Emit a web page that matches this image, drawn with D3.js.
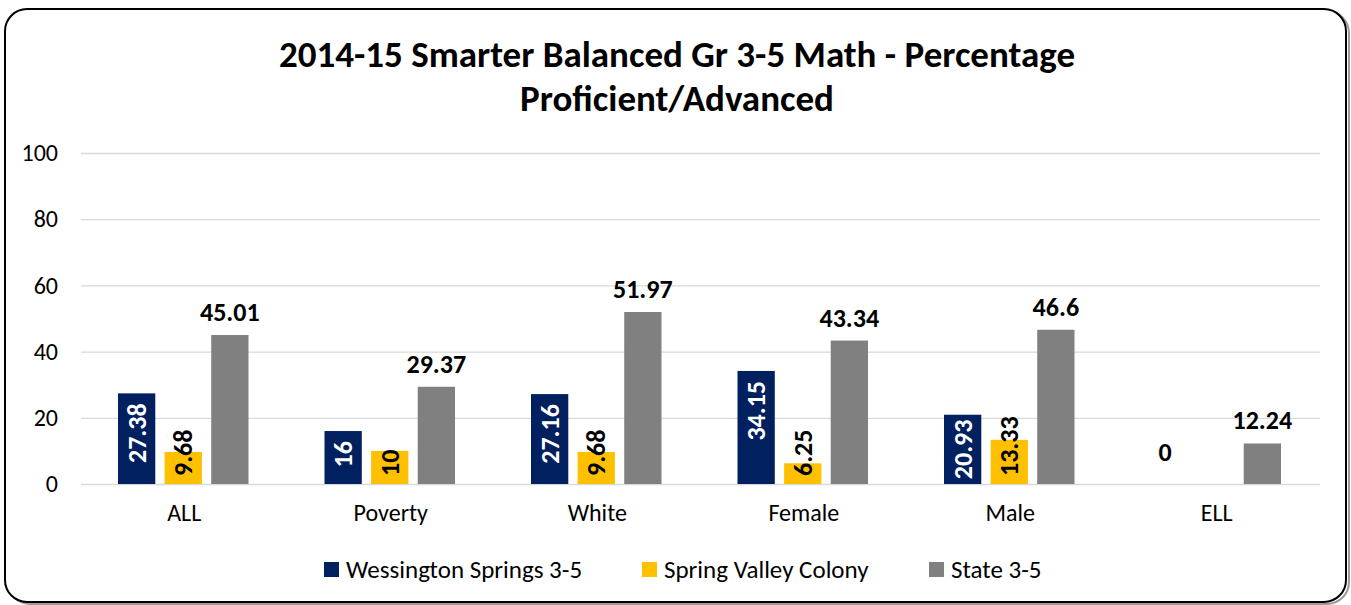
<!DOCTYPE html>
<html>
<head>
<meta charset="utf-8" />
<script src="https://d3js.org/d3.v7.min.js"></script>
<style>
  body { margin: 0; background: #fff; }
  text { font-family: Carlito, Lato, "Open Sans", sans-serif; }
  .grid line { stroke: #d9d9d9; stroke-width: 1.3px; }
  .grid path { display: none; }
  .axis path, .axis line { display: none; }
</style>
</head>
<body>
<svg width="1351" height="605"></svg>
<script>
// chart data
var categories = ["ALL", "Poverty", "White", "Female", "Male", "ELL"];
var seriesNames = ["Wessington Springs 3-5", "Spring Valley Colony", "State 3-5"];
var wessington = [27.38, 16, 27.16, 34.15, 20.93, 0];
var springValley = [9.68, 10, 9.68, 6.25, 13.33, null];
var state = [45.01, 29.37, 51.97, 43.34, 46.6, 12.24];
var yTicks = [0, 20, 40, 60, 80, 100];
var colors = ["#002060", "#FFC000", "#808080"];

var svg = d3.select("svg"),
    margin = {top: 153, right: 31, bottom: 121, left: 81},
    width = +svg.attr("width") - margin.left - margin.right,
    height = +svg.attr("height") - margin.top - margin.bottom;

// frame with a soft shadow
svg.append("rect")
  .attr("x", 8).attr("y", 11).attr("width", 1341).attr("height", 593)
  .attr("rx", 22).attr("fill", "none")
  .attr("stroke", "#9a9a9a").attr("stroke-width", 2);
svg.append("rect")
  .attr("x", 5).attr("y", 9).attr("width", 1341).attr("height", 593)
  .attr("rx", 22).attr("fill", "#fff")
  .attr("stroke", "#000").attr("stroke-width", 2);

// title
var title = svg.append("text")
  .attr("text-anchor", "middle")
  .style("font-size", "37px").style("font-weight", "bold");
title.append("tspan").attr("x", 677).attr("y", 67)
  .text("2014-15 Smarter Balanced Gr 3-5 Math - Percentage");
title.append("tspan").attr("x", 677).attr("y", 111)
  .text("Proficient/Advanced");

var g = svg.append("g")
  .attr("transform", "translate(" + margin.left + "," + margin.top + ")");

var x0 = d3.scaleBand().domain(categories).range([0, width]);
var x1 = d3.scaleBand().domain(seriesNames).range([37, x0.bandwidth() - 39]).paddingInner(0.2);
var y = d3.scaleLinear().domain([0, 100]).range([height, 0]);

// gridlines
g.append("g").attr("class", "grid")
  .call(d3.axisLeft(y).tickValues(yTicks).tickSize(-width).tickFormat(""));

// y axis labels
g.append("g").attr("class", "axis")
  .attr("transform", "translate(-23,0)")
  .call(d3.axisLeft(y).tickValues(yTicks).tickSize(0).tickPadding(0))
  .selectAll("text")
  .style("font-size", "24px").attr("fill", "#000")
  .attr("font-family", "Carlito, Lato, sans-serif");

// x axis labels
g.append("g").attr("class", "axis")
  .attr("transform", "translate(0," + height + ")")
  .call(d3.axisBottom(x0).tickSize(0).tickPadding(20))
  .selectAll("text")
  .style("font-size", "24px").attr("fill", "#000")
  .attr("font-family", "Carlito, Lato, sans-serif");

var seriesValues = [wessington, springValley, state];

var rows = [];
categories.forEach(function(c, i) {
  seriesValues.forEach(function(vals, s) {
    rows.push({cat: c, s: s, name: seriesNames[s], v: vals[i]});
  });
});
var present = rows.filter(function(d) { return d.v !== null; });

// bars
g.selectAll("rect.bar")
  .data(present)
  .enter().append("rect")
  .attr("class", "bar")
  .attr("x", function(d) { return x0(d.cat) + x1(d.name); })
  .attr("y", function(d) { return y(d.v); })
  .attr("width", x1.bandwidth())
  .attr("height", function(d) { return height - y(d.v); })
  .attr("fill", function(d) { return colors[d.s]; });

// value labels
present.forEach(function(d) {
  var cx = x0(d.cat) + x1(d.name) + x1.bandwidth() / 2;
  var label = String(d.v);
  var t = g.append("text")
    .style("font-size", "26px").style("font-weight", "bold")
    .text(label);
  if (d.s === 2) {
    t.attr("x", cx).attr("y", y(d.v) - 14).attr("text-anchor", "middle").attr("fill", "#000");
  } else if (d.v === 0) {
    t.attr("x", cx - 4).attr("y", y(0) - 23).attr("text-anchor", "middle").attr("fill", "#000");
  } else {
    var len = t.node().getComputedTextLength();
    var pos, anchor;
    if (d.s === 0) {
      var h = height - y(d.v);
      if (h > len + 20) { pos = y(d.v) + 10; anchor = "end"; }
      else { pos = y(d.v) + h / 2; anchor = "middle"; }
    } else {
      pos = height - 8; anchor = "start";
    }
    t.attr("text-anchor", anchor)
      .attr("fill", d.s === 0 ? "#fff" : "#000")
      .attr("transform", "translate(" + (cx + 9) + "," + pos + ") rotate(-90)");
  }
});

// legend
var legendX = [324, 642, 929];
var legend = svg.selectAll("g.legend")
  .data(seriesNames)
  .enter().append("g")
  .attr("class", "legend")
  .attr("transform", function(d, i) { return "translate(" + legendX[i] + ",562)"; });
legend.append("rect")
  .attr("width", 15).attr("height", 15)
  .attr("fill", function(d, i) { return colors[i]; });
legend.append("text")
  .attr("x", 22).attr("y", 16)
  .style("font-size", "25px")
  .text(function(d) { return d; });
</script>
</body>
</html>
